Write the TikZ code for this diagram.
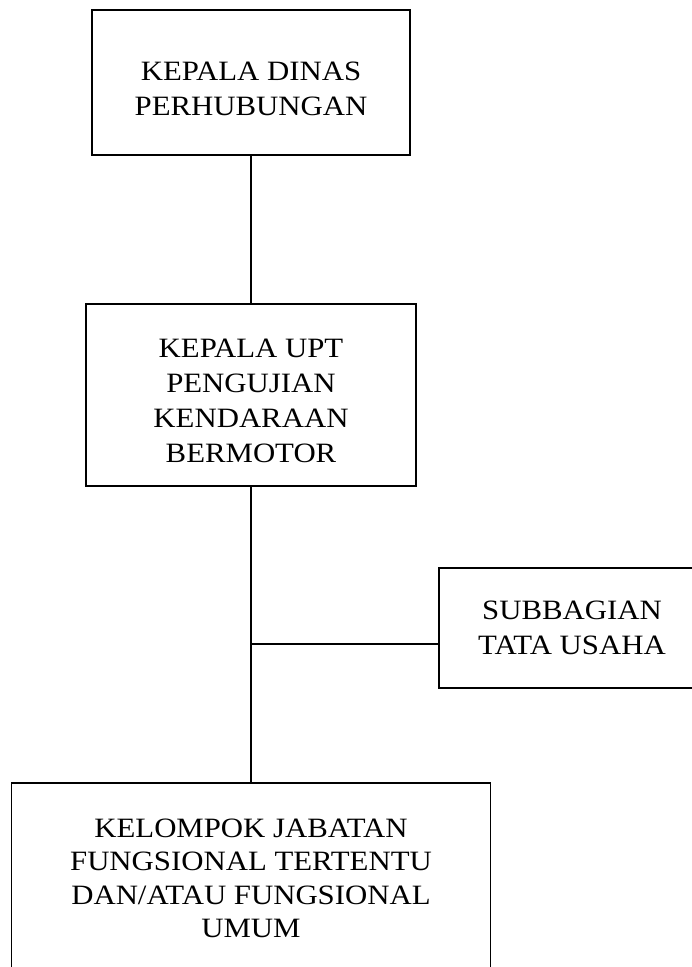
\documentclass[tikz,border=0pt]{standalone}
\usepackage{fontspec}
\setmainfont{Liberation Serif}[FakeStretch=1.1]
\usetikzlibrary{positioning}

\begin{document}
\begin{tikzpicture}[x=1pt,y=1pt,
     align=center,
     font=\fontsize{28}{35}\selectfont,
     every edge/.style={draw,line width=1.4pt},
     unit/.style={rectangle,draw=black,line width=1.8pt,inner sep=0pt}]

    \useasboundingbox (0,0) rectangle (692,-967);
    \clip (0,0) rectangle (692,-967);

    \node[unit,minimum width=318pt,minimum height=145pt,text height=66pt] (kadis) at (251,-82.5) {KEPALA DINAS\\PERHUBUNGAN};

    \node[unit,minimum width=330pt,minimum height=182pt,text height=136pt] (kaupt) [below=147pt of kadis] {KEPALA UPT\\PENGUJIAN\\KENDARAAN\\BERMOTOR}
      edge (kadis);

    \node[unit,minimum width=266pt,minimum height=120pt] (tu) at (572,-628) {SUBBAGIAN\\TATA USAHA};

    \node[unit,minimum width=479pt,minimum height=192pt,font=\fontsize{28}{33.5}\selectfont] (jf) [below=295pt of kaupt] {KELOMPOK JABATAN\\FUNGSIONAL TERTENTU\\DAN/ATAU FUNGSIONAL\\UMUM}
      edge (kaupt);

    \coordinate (cabang) at (251,-644);
    \draw[line width=1.4pt] (cabang) -- (cabang -| tu.west);

  \end{tikzpicture}
\end{document}
